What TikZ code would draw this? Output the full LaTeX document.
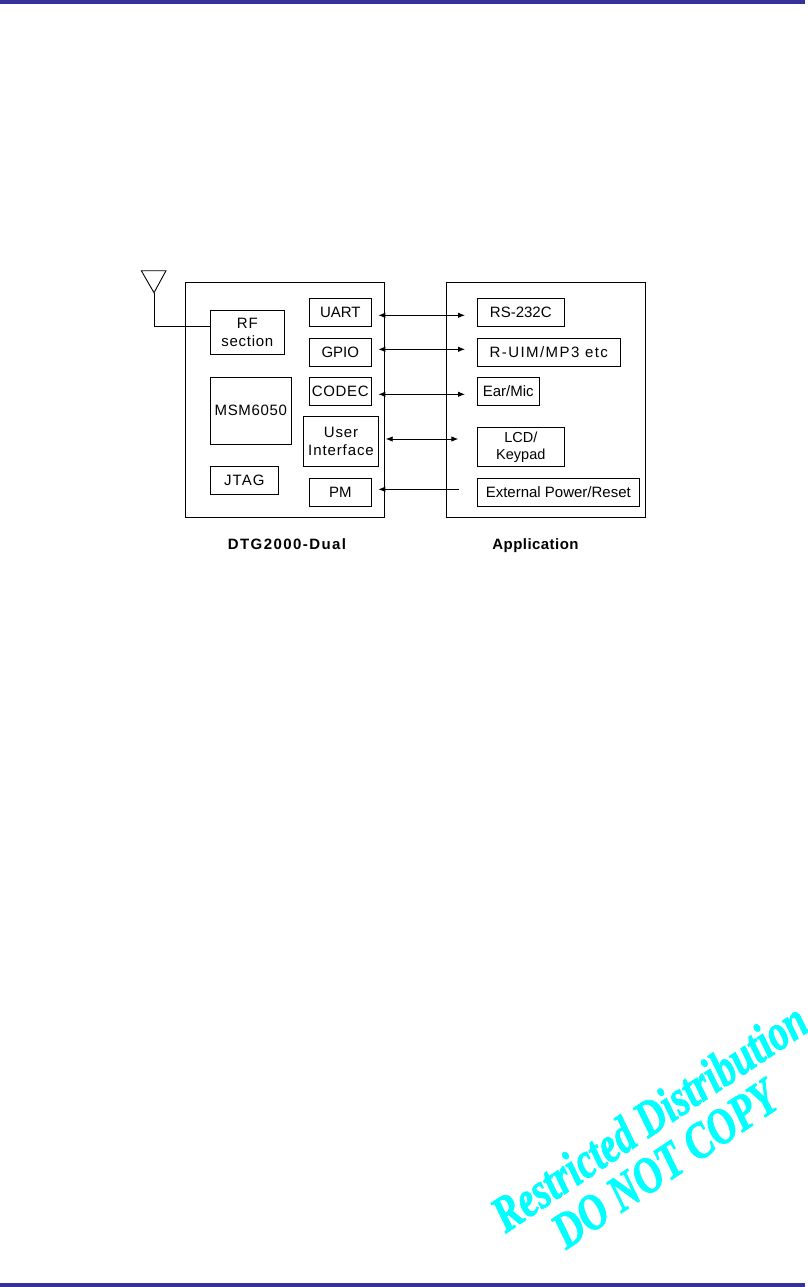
\documentclass[tikz,border=0pt]{standalone}
\usepackage{fontspec}
\setmainfont{Liberation Sans}
\newfontfamily\stampfont[BoldItalicFeatures={FakeBold=1.6}]{Liberation Serif}
\usetikzlibrary{arrows.meta}
\definecolor{barblue}{RGB}{51,51,153}
\definecolor{stampcyan}{RGB}{0,255,255}
\tikzset{
    blockbox/.style={draw=black, line width=0.9pt, inner sep=0pt, outer sep=0pt, align=center, font=\fontsize{15}{18.5}\selectfont},
    spaced/.style={font=\fontsize{15}{18.5}\selectfont\addfontfeature{LetterSpace=#1}},
    outerbox/.style={draw=black, line width=0.9pt, inner sep=0pt, outer sep=0pt},
    caption/.style={inner sep=0pt, font=\fontsize{15}{18}\selectfont\bfseries\addfontfeature{LetterSpace=#1}},
    stamp/.style={inner sep=0pt, rotate=33.7, xscale=0.77, text=stampcyan, font=\fontsize{51}{51}\selectfont\stampfont\bfseries\itshape},
    link/.style={line width=0.9pt, {Latex[length=7pt,width=5.5pt]}-{Latex[length=7pt,width=5.5pt]}},
    linkin/.style={line width=0.9pt, -{Latex[length=7pt,width=5.5pt]}}
}
\begin{document}
\begin{tikzpicture}[x=1pt, y=-1pt]
    \useasboundingbox (0,0) rectangle (808,1287);
    \fill[barblue] (0,0) rectangle (805,4);
    \fill[barblue] (0,1283) rectangle (805,1287);
    % left module
    \node[outerbox, minimum width=199pt, minimum height=234.5pt] (dtg) at (284.8,400) {};
    \node[blockbox, spaced=5, minimum width=74pt, minimum height=44pt] (rf) at (247.3,332.3) {RF\\section};
    \node[blockbox, spaced=4.5, minimum width=81pt, minimum height=67pt] (msm) at (250.8,410.8) {MSM6050};
    \node[blockbox, spaced=7, minimum width=68pt, minimum height=28pt] (jtag) at (244.3,480.3) {JTAG};
    \node[blockbox, minimum width=62pt, minimum height=28pt] (uart) at (340.3,312.3) {UART};
    \node[blockbox, minimum width=62pt, minimum height=28pt] (gpio) at (340.3,352.3) {GPIO};
    \node[blockbox, spaced=4.5, minimum width=62pt, minimum height=28pt] (codec) at (340.3,391.3) {CODEC};
    \node[blockbox, spaced=6, minimum width=75.4pt, minimum height=50pt] (ui) at (341,441.3) {User\\Interface};
    \node[blockbox, minimum width=62pt, minimum height=28pt] (pm) at (340.3,492.3) {PM};
    \node[caption=9.5] (dtgname) at (287,544.5) {DTG2000-Dual};
    % right module
    \node[outerbox, minimum width=199.4pt, minimum height=234.6pt] (app) at (546,400) {};
    \node[blockbox, minimum width=87pt, minimum height=28pt] (rs) at (520.8,312.3) {RS-232C};
    \node[blockbox, spaced=9.5, minimum width=143pt, minimum height=28pt] (ruim) at (548.8,352.3) {R-UIM/MP3 etc};
    \node[blockbox, minimum width=62pt, minimum height=28pt] (ear) at (508.3,391.3) {Ear/Mic};
    \node[blockbox, minimum width=87pt, minimum height=39pt, font=\fontsize{14.5}{17}\selectfont] (lcd) at (520.8,446.8) {LCD/\\Keypad};
    \node[blockbox, minimum width=162pt, minimum height=28pt] (ext) at (558.3,492.3) {External Power/Reset};
    \node[caption=3] (appname) at (535.5,545.5) {Application};
    % antenna
    \coordinate (antl) at (141.3,270.7);
    \coordinate (antr) at (166,270.7);
    \coordinate (anttip) at (154,292.7);
    \coordinate (antbend) at (154,326.3);
    \draw[line width=0.9pt] (antl) -- (antr) -- (anttip) -- cycle;
    \draw[line width=0.9pt] (anttip) -- (antbend) -- (antbend -| rf.west);
    % free ends of the links
    \coordinate (uarta) at (378.3,315.3);
    \coordinate (uartb) at (465,315.3);
    \coordinate (gpioa) at (378.3,349.3);
    \coordinate (gpiob) at (465,349.3);
    \coordinate (codeca) at (378.3,394.3);
    \coordinate (codecb) at (465,394.3);
    \coordinate (uia) at (385.7,439);
    \coordinate (uib) at (458.3,439);
    \coordinate (pma) at (378.3,489.3);
    \coordinate (pmb) at (459,489.3);
    \draw[link] (uarta) -- (uartb);
    \draw[link] (gpioa) -- (gpiob);
    \draw[link] (codeca) -- (codecb);
    \draw[link] (uia) -- (uib);
    \draw[linkin] (pmb) -- (pma);
    % watermark
    \node[stamp] (restricted) at (649,1117) {Restricted Distribution};
    \node[stamp] (nocopy) at (665,1164) {DO NOT COPY};
\end{tikzpicture}
\end{document}
